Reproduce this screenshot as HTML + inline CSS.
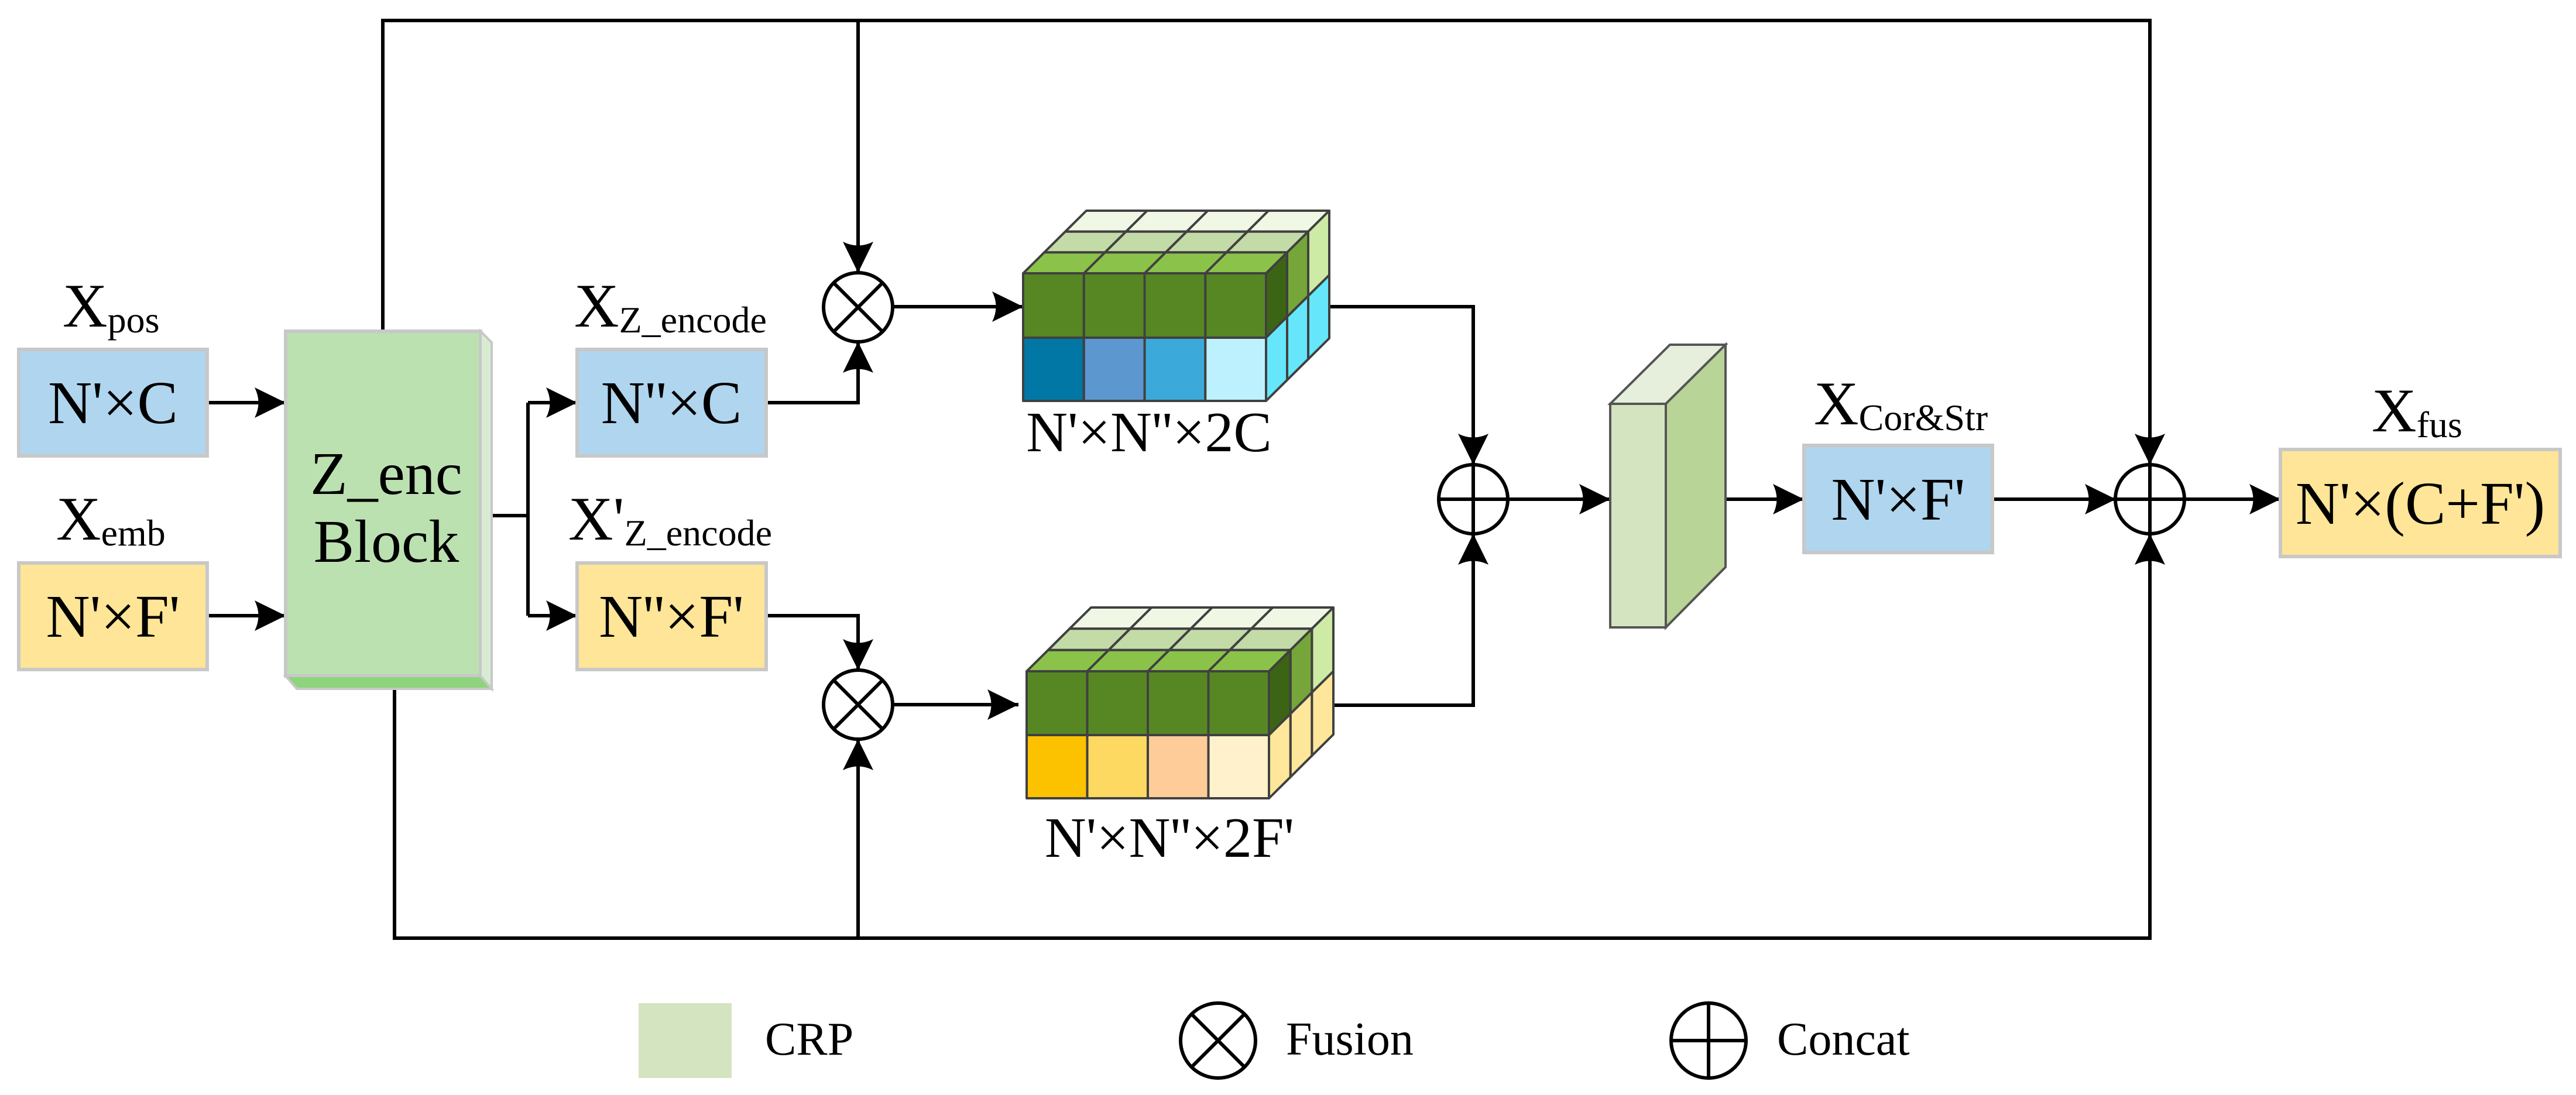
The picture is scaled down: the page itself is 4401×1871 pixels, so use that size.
<!DOCTYPE html>
<html><head><meta charset="utf-8">
<style>
html,body{margin:0;padding:0;background:#fff;}
svg{display:block;}
svg text, svg tspan{font-family:"Liberation Serif","Times New Roman",Times,"DejaVu Serif","Noto Serif CJK SC",serif !important;fill:#000;}
</style></head>
<body>
<svg id="s" width="4401" height="1871" viewBox="0 0 4401 1871" xmlns="http://www.w3.org/2000/svg">
<defs>
<marker id="ah" markerUnits="userSpaceOnUse" markerWidth="60" markerHeight="60" viewBox="-55 -30 60 60" refX="0" refY="0" orient="auto">
<path d="M0,0 L-53,-26 Q-40,0 -53,26 Z" fill="#000"/>
</marker>
</defs>
<g fill="none" stroke="#000" stroke-width="6">
<polyline points="654,566 654,35 3673,35 3673,794" marker-end="url(#ah)"/>
<line x1="1466" y1="35" x2="1466" y2="466" marker-end="url(#ah)"/>
<polyline points="674,1177 674,1603 3673,1603 3673,912" marker-end="url(#ah)"/>
<line x1="1466" y1="1603" x2="1466" y2="1263" marker-end="url(#ah)"/>
<line x1="354" y1="688" x2="488" y2="688" marker-end="url(#ah)"/>
<line x1="354" y1="1052" x2="488" y2="1052" marker-end="url(#ah)"/>
<polyline points="840,881 902,881"/>
<line x1="902" y1="688" x2="902" y2="1052"/>
<line x1="902" y1="688" x2="986" y2="688" marker-end="url(#ah)"/>
<line x1="902" y1="1052" x2="986" y2="1052" marker-end="url(#ah)"/>
<polyline points="1309,688 1466,688 1466,584" marker-end="url(#ah)"/>
<polyline points="1309,1052 1466,1052 1466,1145" marker-end="url(#ah)"/>
<line x1="1525" y1="524" x2="1748" y2="524" marker-end="url(#ah)"/>
<line x1="1525" y1="1204" x2="1740" y2="1204" marker-end="url(#ah)"/>
<polyline points="2271,524 2517,524 2517,794" marker-end="url(#ah)"/>
<polyline points="2278,1205 2517,1205 2517,912" marker-end="url(#ah)"/>
<line x1="2576" y1="853" x2="2751" y2="853" marker-end="url(#ah)"/>
<line x1="2948" y1="853" x2="3082" y2="853" marker-end="url(#ah)"/>
<line x1="3404" y1="853" x2="3615" y2="853" marker-end="url(#ah)"/>
<line x1="3731" y1="853" x2="3896" y2="853" marker-end="url(#ah)"/>
</g>

<g fill="#fff" stroke="#000" stroke-width="6">
<circle cx="1466" cy="525" r="59"/>
<line x1="1424" y1="483" x2="1508" y2="567"/><line x1="1508" y1="483" x2="1424" y2="567"/>
<circle cx="1466" cy="1204" r="59"/>
<line x1="1424" y1="1162" x2="1508" y2="1246"/><line x1="1508" y1="1162" x2="1424" y2="1246"/>
<circle cx="2517" cy="853" r="59"/>
<line x1="2458" y1="853" x2="2576" y2="853"/><line x1="2517" y1="794" x2="2517" y2="912"/>
<circle cx="3673" cy="853" r="59"/>
<line x1="3614" y1="853" x2="3732" y2="853"/><line x1="3673" y1="794" x2="3673" y2="912"/>
</g>

<rect x="488" y="566" width="333" height="589" fill="#BBE1B1" stroke="#c8c8c8" stroke-width="6"/>
<polygon points="821,566 840,585 840,1177 821,1155" fill="#d8ecd2" stroke="#c8c8c8" stroke-width="4"/>
<polygon points="488,1155 821,1155 840,1177 507,1177" fill="#8ed47d" stroke="#c8c8c8" stroke-width="4"/>
<text x="660" y="844" font-size="104" text-anchor="middle">Z_enc</text>
<text x="660" y="960" font-size="104" text-anchor="middle">Block</text>

<g stroke="#c8c8c8" stroke-width="6">
<rect x="32" y="597" width="322" height="182" fill="#B0D5EE"/>
<rect x="32" y="962" width="322" height="182" fill="#FFE597"/>
<rect x="986" y="597" width="323" height="182" fill="#B0D5EE"/>
<rect x="986" y="962" width="323" height="182" fill="#FFE597"/>
<rect x="3082" y="761" width="322" height="183" fill="#B0D5EE"/>
<rect x="3896" y="768" width="478" height="183" fill="#FFE597"/>
</g>
<g font-size="104" text-anchor="middle">
<text x="193" y="723">N'×C</text>
<text x="193" y="1088">N'×F'</text>
<text x="1147" y="723">N''×C</text>
<text x="1147" y="1088">N''×F'</text>
<text x="3243" y="888">N'×F'</text>
<text x="4135" y="895">N'×(C+F')</text>
</g>

<g font-size="106">
<text x="107" y="558">X<tspan font-size="64" dy="10">pos</tspan></text>
<text x="96" y="922">X<tspan font-size="64" dy="10">emb</tspan></text>
<text x="981" y="558">X<tspan font-size="64" dy="10">Z_encode</tspan></text>
<text x="971" y="922">X'<tspan font-size="64" dy="10">Z_encode</tspan></text>
<text x="3099" y="725">X<tspan font-size="64" dy="10">Cor&amp;Str</tspan></text>
<text x="4052" y="737">X<tspan font-size="64" dy="10">fus</tspan></text>
</g>
<g font-size="98" text-anchor="middle">
<text x="1963" y="771">N'×N''×2C</text>
<text x="1998" y="1464">N'×N''×2F'</text>
</g>

<g stroke="#555" stroke-width="4">
<polygon points="2751,690 2853,589 2948,589 2846,690" fill="#E6EEDC"/>
<polygon points="2846,690 2948,589 2948,969 2846,1072" fill="#B8D597"/>
<rect x="2751" y="690" width="95" height="382" fill="#D5E4C0"/>
</g>

<g id="cubes"></g>

<rect x="1091" y="1714" width="159" height="128" fill="#D5E4C0"/>
<text x="1307" y="1802" font-size="80">CRP</text>
<g fill="none" stroke="#000" stroke-width="6">
<circle cx="2081" cy="1778" r="64"/>
<line x1="2036" y1="1733" x2="2126" y2="1823"/><line x1="2126" y1="1733" x2="2036" y2="1823"/>
<circle cx="2919" cy="1778" r="64"/>
<line x1="2855" y1="1778" x2="2983" y2="1778"/><line x1="2919" y1="1714" x2="2919" y2="1842"/>
</g>
<text x="2197" y="1802" font-size="80">Fusion</text>
<text x="3036" y="1802" font-size="80">Concat</text>
</svg>
<script>
(function(){
var g=document.getElementById('cubes');var out='';
function poly(p,f){out+='<polygon points="'+p.map(function(a){return a[0].toFixed(1)+','+a[1].toFixed(1)}).join(' ')+'" fill="'+f+'" stroke="#404040" stroke-width="4" stroke-linejoin="round"/>';}
function cube(x0,x1,top,mid,bot,DX,DY,bottomCols,rightBottom){
 var w=(x1-x0)/4,dx=DX/3,dy=DY/3;
 var topRows=['#8BC34A','#C3DBA7','#F0F8E5'];
 for(var j=2;j>=0;j--){for(var k=0;k<4;k++){
  poly([[x0+k*w+j*dx,top-j*dy],[x0+(k+1)*w+j*dx,top-j*dy],[x0+(k+1)*w+(j+1)*dx,top-(j+1)*dy],[x0+k*w+(j+1)*dx,top-(j+1)*dy]],topRows[j]);}}
 var rt=['#3C6415','#76A63A','#CDEBA5'];
 for(var i=2;i>=0;i--){
  var a=x1+i*dx,b=x1+(i+1)*dx;
  poly([[a,top-i*dy],[b,top-(i+1)*dy],[b,mid-(i+1)*dy],[a,mid-i*dy]],rt[i]);
  poly([[a,mid-i*dy],[b,mid-(i+1)*dy],[b,bot-(i+1)*dy],[a,bot-i*dy]],rightBottom);
 }
 for(var k=0;k<4;k++){
  poly([[x0+k*w,top],[x0+(k+1)*w,top],[x0+(k+1)*w,mid],[x0+k*w,mid]],'#578723');
  poly([[x0+k*w,mid],[x0+(k+1)*w,mid],[x0+(k+1)*w,bot],[x0+k*w,bot]],bottomCols[k]);
 }
}
cube(1748,2163,467,577,685,108,107,['#0077A4','#5C97CF','#3BAADA','#BDF1FD'],'#66E6FA');
cube(1754,2168,1147,1256,1364,110,109,['#FCC200','#FDD962','#FDCC99','#FEF1CB'],'#FEE79A');
g.innerHTML=out;
})();
</script>
</body></html>
